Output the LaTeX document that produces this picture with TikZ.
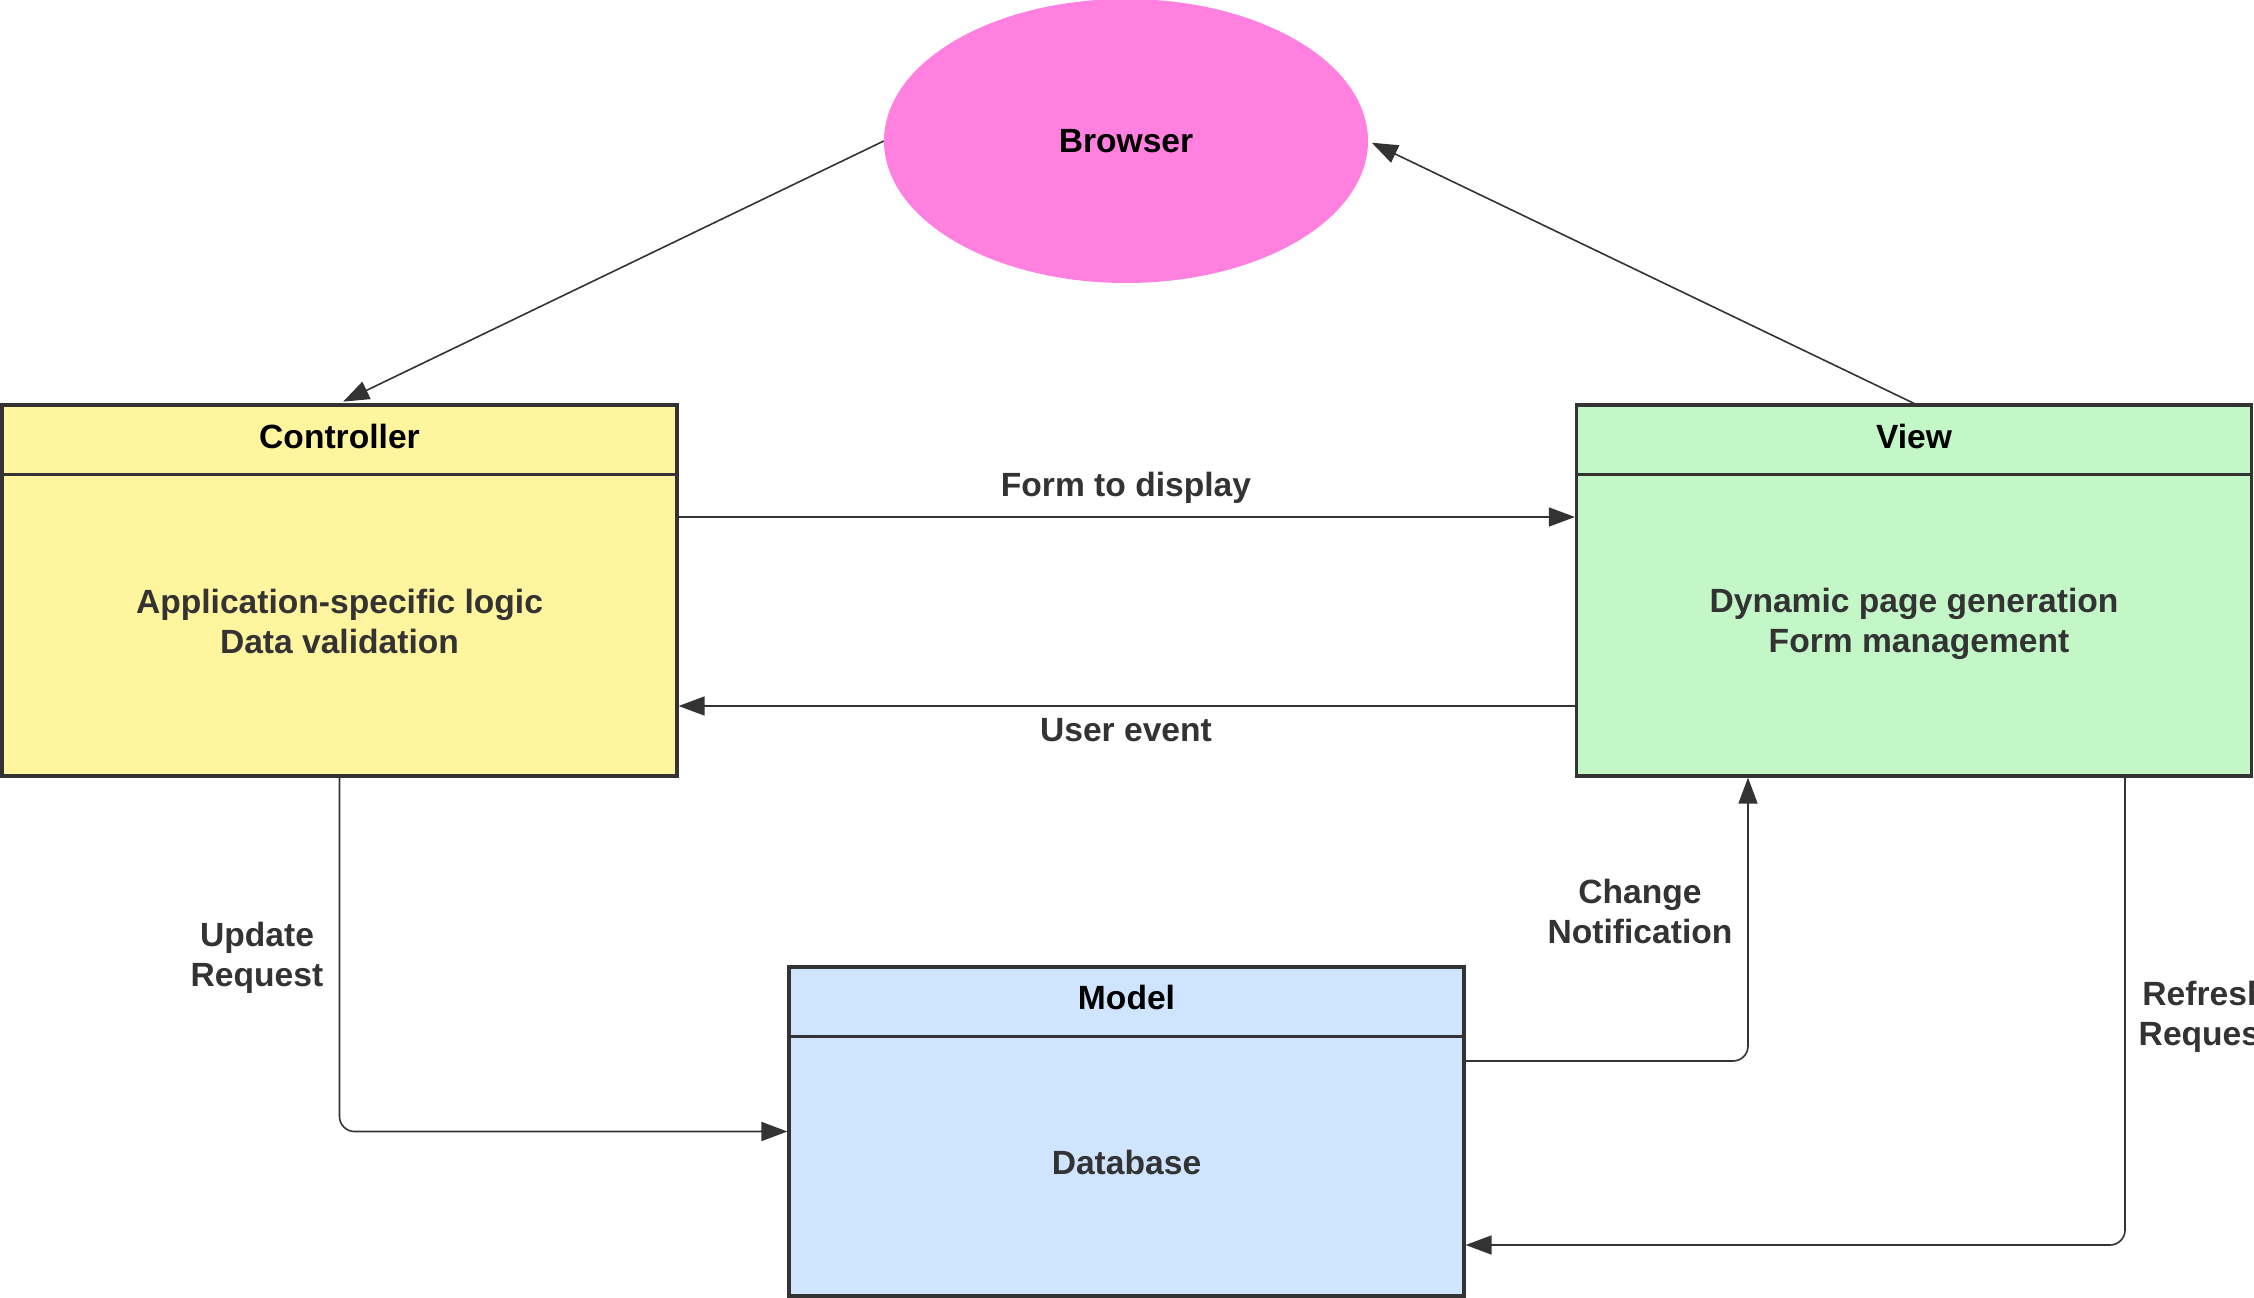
\documentclass[tikz,border=0pt]{standalone}
\usepackage{fontspec}
\setmainfont{Liberation Sans}
\usetikzlibrary{arrows.meta,shapes.geometric,calc}
\definecolor{pinkfill}{HTML}{FF80DF}
\definecolor{yellowfill}{HTML}{FFF59E}
\definecolor{greenfill}{HTML}{C3F7C8}
\definecolor{bluefill}{HTML}{CFE4FF}
\definecolor{ink}{HTML}{333333}
\tikzset{
  x=1pt, y=1pt,
  boxstyle/.style={draw=ink, line width=3.2pt, rectangle, inner sep=0pt},
  titletext/.style={font=\fontsize{33.6}{40}\selectfont\bfseries, text=black, inner sep=0pt},
  bodytext/.style={font=\fontsize{33.6}{40}\selectfont\bfseries, text=ink, align=center, inner sep=0pt},
  labeltext/.style={font=\fontsize{33.6}{40}\selectfont\bfseries, text=ink, align=center, inner sep=0pt},
  conn/.style={draw=ink, line width=1.6pt, -{Triangle[length=26pt,width=19pt]}},
}
\begin{document}
\begin{tikzpicture}
\useasboundingbox (0,0) rectangle (2254,-1298);
% Browser
\node[ellipse, fill=pinkfill, minimum width=484, minimum height=284, inner sep=0pt] (browser) at (1126,-141) {};
\node[titletext] (browsertxt) at (browser.center) {Browser};
% Controller
\node[boxstyle, fill=yellowfill, minimum width=675, minimum height=371] (ctrl) at (339.5,-590.5) {};
\draw[draw=ink, line width=3.2pt] ($(ctrl.north west)+(0,-71)$) coordinate (ctrldivl) -- ($(ctrl.north east)+(0,-71)$) coordinate (ctrldivr);
\node[titletext] (ctrltitle) at ($(ctrl.north)+(0,-33)$) {Controller};
\node[bodytext] (ctrlbody) at ($(ctrl.center)+(0,-31)$) {Application-specific logic\\Data validation};
% View
\node[boxstyle, fill=greenfill, minimum width=675, minimum height=371] (view) at (1914,-590.5) {};
\draw[draw=ink, line width=3.2pt] ($(view.north west)+(0,-71)$) coordinate (viewdivl) -- ($(view.north east)+(0,-71)$) coordinate (viewdivr);
\node[titletext] (viewtitle) at ($(view.north)+(0,-33)$) {View};
\node[bodytext] (viewbody) at ($(view.center)+(0,-33)$) {Dynamic page generation\\\hspace*{10pt}Form management};
% Model
\node[boxstyle, fill=bluefill, minimum width=675, minimum height=329] (model) at (1126.5,-1131.5) {};
\draw[draw=ink, line width=3.2pt] ($(model.north west)+(0,-71)$) coordinate (modeldivl) -- ($(model.north east)+(0,-71)$) coordinate (modeldivr);
\node[titletext] (modeltitle) at ($(model.north)+(0,-32)$) {Model};
\node[bodytext] (modelbody) at ($(model.center)+(0,-31)$) {Database};
% Connectors
\draw[conn, shorten >=4pt] (browser.west) -- (ctrl.north);
\draw[conn, shorten >=4pt] (view.north) -- (browser.east);
\draw[conn] (ctrl.east |- 0,-517) coordinate (fstart) -- (view.west |- fstart);
\node[labeltext] (formlbl) at (1126,-488) {Form to display};
\draw[conn] (view.west |- 0,-706) coordinate (ustart) -- (ctrl.east |- ustart);
\node[labeltext] (userlbl) at (1126,-730) {User event};
\draw[conn, rounded corners=15pt] (ctrl.south) |- (model.west);
\node[labeltext] (updlbl) at (257,-958) {Update\\Request};
\draw[conn, rounded corners=15pt] (model.east |- 0,-1061) coordinate (cstart) -| (view.south -| 1748,0);
\node[labeltext] (chglbl) at (1640,-911) {Change\\Notification};
\draw[conn, rounded corners=15pt] (view.south -| 2125,0) |- (model.east |- 0,-1245);
\node[labeltext] (reflbl) at (2205,-1017) {Refresh\\Request};
\end{tikzpicture}
\end{document}
